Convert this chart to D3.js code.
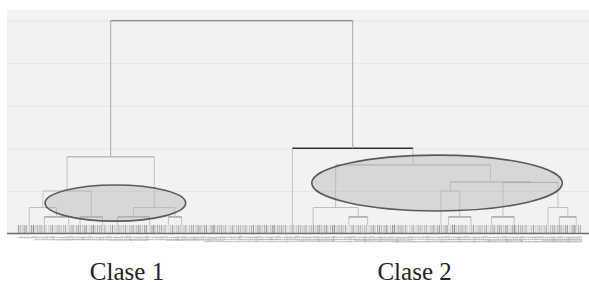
<!DOCTYPE html>
<html>
<head>
<meta charset="utf-8">
<script src="https://cdn.jsdelivr.net/npm/d3@7"></script>
<style>
  body { margin: 0; background: #fff; }
</style>
</head>
<body>
<div id="chart"></div>
<script>
// number of observations at the bottom of the tree
var leafCount = 300;

// visible branch ends: leaf index where each one reaches the bottom
var groupLeaf = [6, 14, 27, 33, 45, 53, 70, 80, 87,
                 146, 157, 176, 186, 225, 229, 241, 252, 264, 282, 288, 297];

// merges like a linkage table: [left node, right node, height]
// new node ids continue after the groups (21, 22, ...)
var merges = [
    [1, 2, 0.39],    // 21
    [0, 21, 0.61],   // 22
    [3, 4, 0.39],    // 23
    [22, 23, 1.0],   // 24
    [5, 6, 0.39],    // 25
    [7, 8, 0.39],    // 26
    [25, 26, 0.61],  // 27
    [24, 27, 1.8],   // 28
    [11, 12, 0.39],  // 29
    [10, 29, 0.61],  // 30
    [14, 15, 0.39],  // 31
    [13, 31, 1.0],   // 32
    [16, 17, 0.39],  // 33
    [19, 20, 0.39],  // 34
    [18, 34, 0.61],  // 35
    [33, 35, 1.2],   // 36
    [32, 36, 1.21],  // 37
    [30, 37, 1.61],  // 38
    [9, 38, 2.0],    // 39
    [28, 39, 5.0]    // 40
];
var groupHeight = 0.2;

var gridValues = [1, 2, 3, 4, 5];

// the two classes, marked with an ellipse (leaf range / height range)
var classNames = ["Clase 1", "Clase 2"];
var classLeafRange = [[14.4, 89.2], [156.3, 289.6]];
var classHeightRange = [[0.29, 1.14], [0.53, 1.84]];
var classLabelLeaf = [58, 211];

var svgWidth = 589;
var svgHeight = 286;

var panel = { left: 7, right: 589, top: 10, bottom: 233.5 };

var svg = d3.select("#chart")
    .append("svg")
    .attr("width", svgWidth)
    .attr("height", svgHeight);

var xScale = d3.scaleLinear()
    .domain([0, leafCount - 1])
    .range([18, 580]);

var yScale = d3.scaleLinear()
    .domain([0, 5.25])
    .range([panel.bottom, panel.top]);

// background panel
svg.append("rect")
    .attr("x", panel.left)
    .attr("y", panel.top)
    .attr("width", panel.right - panel.left)
    .attr("height", panel.bottom - panel.top)
    .attr("fill", "#f1f2f4");

// gridlines
var grid = svg.append("g")
    .attr("transform", `translate(${panel.left}, 0)`)
    .call(d3.axisLeft(yScale)
        .tickValues(gridValues)
        .tickSize(-(panel.right - panel.left))
        .tickFormat(""));
grid.select(".domain").remove();
grid.selectAll("line").attr("stroke", "#e4e5e8").attr("stroke-width", 1);

// leaf ticks + tiny labels through an axis
var leafGrays = ["#a0a0a0", "#cccccc", "#8c8c8c", "#b8b8b8", "#d8d8d8", "#999999", "#c2c2c2", "#ababab"];
var leafAxis = svg.append("g")
    .attr("transform", `translate(0, ${panel.bottom})`)
    .call(d3.axisBottom(xScale)
        .tickValues(d3.range(leafCount))
        .tickSizeInner(-(yScale(0) - yScale(groupHeight)))
        .tickSizeOuter(0)
        .tickFormat(function (d) { return d + 1; }));
leafAxis.select(".domain").remove();
leafAxis.selectAll(".tick line")
    .attr("stroke", function (d) { return leafGrays[(d * 7 + (d >> 2)) % leafGrays.length]; })
    .attr("stroke-width", function (d) { return d % 4 == 0 ? 1.2 : 0.9; });
leafAxis.selectAll(".tick text")
    .attr("font-size", 3.4)
    .attr("font-family", "DejaVu Sans")
    .attr("fill", "#8a8a8a")
    .attr("text-anchor", "end")
    .attr("transform", "translate(0, 2.5) rotate(-90)")
    .attr("dx", "-0.1em")
    .attr("dy", "0.35em")
    .attr("y", 0);

// baseline
svg.append("line")
    .attr("x1", panel.left)
    .attr("x2", panel.right)
    .attr("y1", panel.bottom)
    .attr("y2", panel.bottom)
    .attr("stroke", "#6e6e6e")
    .attr("stroke-width", 1.5);

// node positions from the linkage table
var nodeX = groupLeaf.map(function (d) { return xScale(d); });
var nodeH = groupLeaf.map(function () { return groupHeight; });
merges.forEach(function (m) {
    nodeX.push((nodeX[m[0]] + nodeX[m[1]]) / 2);
    nodeH.push(m[2]);
});

var links = svg.append("g");
var topId = groupLeaf.length + merges.length - 1;

merges.forEach(function (m, i) {
    var id = groupLeaf.length + i;
    var y = yScale(m[2]);
    var vColor = id == topId ? "#a8a8a8" : "#c2c2c2";
    [m[0], m[1]].forEach(function (c) {
        links.append("line")
            .attr("x1", nodeX[c]).attr("x2", nodeX[c])
            .attr("y1", y).attr("y2", yScale(nodeH[c]))
            .attr("stroke", vColor)
            .attr("stroke-width", 1);
    });
    var hColor = "#bdbdbd";
    var hWidth = 1;
    if (id == topId) { hColor = "#8a8a8a"; hWidth = 1.3; }
    else if (id == topId - 1) { hColor = "#333"; hWidth = 1.5; }
    else if (m[2] < 0.5) { hColor = "#999"; hWidth = 1.3; }
    else if (m[2] > 1.1) { hColor = "#a5a5a5"; }
    links.append("line")
        .attr("x1", nodeX[m[0]]).attr("x2", nodeX[m[1]])
        .attr("y1", y).attr("y2", y)
        .attr("stroke", hColor)
        .attr("stroke-width", hWidth);
});

// class ellipses
classNames.forEach(function (name, i) {
    var x0 = xScale(classLeafRange[i][0]), x1 = xScale(classLeafRange[i][1]);
    var y0 = yScale(classHeightRange[i][1]), y1 = yScale(classHeightRange[i][0]);
    svg.append("ellipse")
        .attr("cx", (x0 + x1) / 2)
        .attr("cy", (y0 + y1) / 2)
        .attr("rx", (x1 - x0) / 2)
        .attr("ry", (y1 - y0) / 2)
        .attr("fill", "#b2b2b2")
        .attr("fill-opacity", 0.42)
        .attr("stroke", "#5a5a5a")
        .attr("stroke-width", 1.6);

    svg.append("text")
        .attr("x", xScale(classLabelLeaf[i]))
        .attr("y", 280)
        .attr("text-anchor", "middle")
        .attr("font-family", "Liberation Serif")
        .attr("font-size", 25)
        .attr("fill", "#222")
        .text(name);
});
</script>
</body>
</html>
